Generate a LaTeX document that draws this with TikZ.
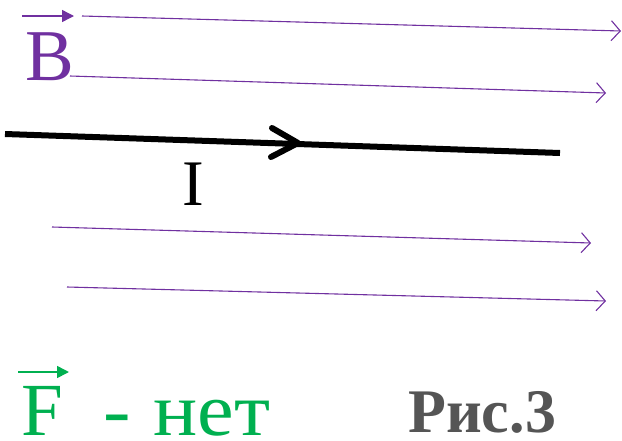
\documentclass[tikz,border=0pt]{standalone}
\usepackage{fontspec}
\setmainfont{Liberation Serif}
\usetikzlibrary{arrows.meta}
\definecolor{bpurple}{RGB}{112,48,160}
\definecolor{fgreen}{RGB}{0,176,80}
\definecolor{capgray}{RGB}{85,85,85}
\tikzset{
  fieldline/.style={draw=bpurple, line width=1.1pt, -{Straight Barb[length=9pt,width=20pt,line width=1.1pt]}},
  wire/.style={draw=black, line width=6pt},
  vecarrow/.style={line width=1.6pt, -{Triangle[length=12pt,width=12pt]}},
  lbl/.style={inner sep=0pt, outer sep=0pt}
}
\begin{document}
\begin{tikzpicture}[x=1pt,y=-1pt]
\useasboundingbox (0,0) rectangle (622,440);
% field lines
\coordinate (l1a) at (82,16);  \coordinate (l1b) at (621,31);
\coordinate (l2a) at (70,76);  \coordinate (l2b) at (606,93);
\coordinate (l3a) at (52,227); \coordinate (l3b) at (591,243);
\coordinate (l4a) at (67,287); \coordinate (l4b) at (606,301);
\draw[fieldline] (l1a) -- (l1b);
\draw[fieldline] (l2a) -- (l2b);
\draw[fieldline] (l3a) -- (l3b);
\draw[fieldline] (l4a) -- (l4b);
% current wire
\coordinate (wa) at (5,134);
\coordinate (wb) at (560,153);
\coordinate (tip) at (298,143);
\coordinate (ch1) at (272,128);
\coordinate (ch2) at (271,157);
\draw[wire] (wa) -- (wb);
\draw[wire, line cap=round, line join=round] (ch1) -- (tip) -- (ch2);
\node[lbl, anchor=base, font=\fontsize{65}{65}\selectfont] (I) at (193,205) {I};
% B label
\node[lbl, anchor=base west, text=bpurple, font=\fontsize{73}{73}\selectfont] (B) at (25,80) {B};
\coordinate (ba) at (22,16); \coordinate (bb) at (74,16);
\draw[vecarrow, bpurple, line width=1.4pt] (ba) -- (bb);
% F label
\node[lbl, anchor=base west, text=fgreen, font=\fontsize{75}{75}\selectfont] (F) at (21,435) {F};
\coordinate (fa) at (18,372); \coordinate (fb) at (69,372);
\draw[vecarrow, fgreen, line width=1.6pt] (fa) -- (fb);
\node[lbl, anchor=base west, text=fgreen, font=\fontsize{75}{75}\selectfont] (net) at (103,435) {\scalebox{1.1}[1]{-\hspace{2pt} нет}};
% caption
\node[lbl, anchor=base east, text=capgray, font=\bfseries\fontsize{62}{62}\selectfont] (cap) at (556,432) {Рис.3};
\end{tikzpicture}
\end{document}
